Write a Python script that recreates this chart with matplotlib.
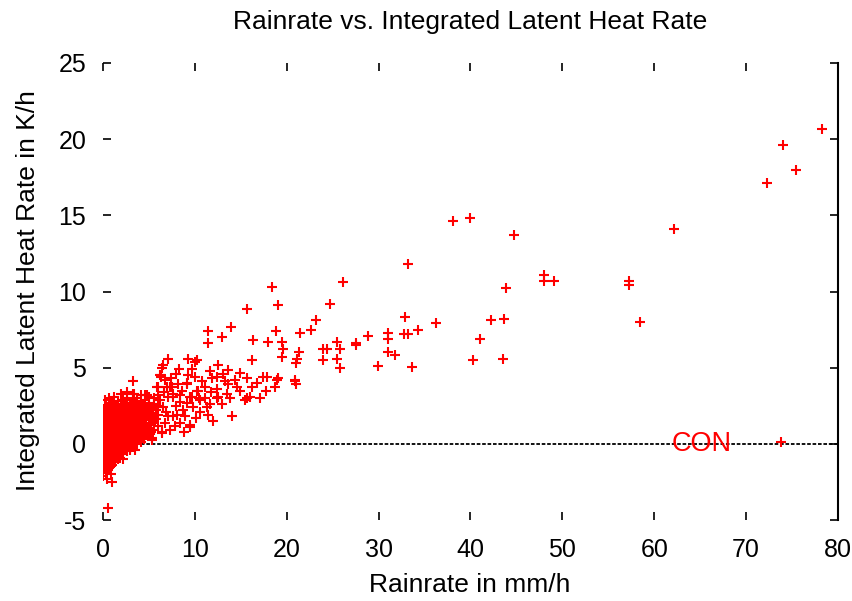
import numpy as np
import matplotlib
matplotlib.use('Agg')
import matplotlib.pyplot as plt

plt.rcParams['font.family'] = ['Liberation Sans', 'DejaVu Sans']
plt.rcParams['axes.unicode_minus'] = False

# dense cluster of weak rain cases (rainrate mm/h, latent heat K/h)
cluster_pts = [
    (0.1, -1.6), (0.12, -1.2), (0.08, -0.8), (0.15, -0.4), (0.1, 0.0), (0.05, 0.3), (0.14, 0.7),
    (0.1, 1.1), (0.07, 1.5), (0.12, 1.9), (0.1, 2.3),
    (0.3, -1.9), (0.33, -1.4), (0.28, -1.0), (0.35, -0.5), (0.3, -0.1), (0.27, 0.4), (0.32, 0.8),
    (0.3, 1.3), (0.36, 1.7), (0.29, 2.1), (0.31, 2.5),
    (0.52, -1.7), (0.5, -1.3), (0.55, -0.7), (0.48, -0.2), (0.5, 0.2), (0.53, 0.6), (0.49, 1.0),
    (0.56, 1.4), (0.5, 1.9), (0.52, 2.4),
    (0.8, -1.5), (0.78, -1.1), (0.83, -0.6), (0.8, -0.3), (0.76, 0.1), (0.82, 0.5), (0.8, 0.9),
    (0.85, 1.2), (0.79, 1.6), (0.81, 2.0), (0.8, 2.6),
    (1.0, -1.4), (1.05, -0.9), (0.98, -0.4), (1.02, 0.0), (1.0, 0.4), (1.04, 0.8), (0.97, 1.1),
    (1.03, 1.5), (1.0, 1.8), (1.06, 2.2), (1.0, 2.7),
    (1.3, -1.2), (1.27, -0.8), (1.33, -0.2), (1.3, 0.2), (1.28, 0.6), (1.34, 1.0), (1.3, 1.4),
    (1.26, 1.7), (1.32, 2.1), (1.3, 2.5),
    (1.6, -1.0), (1.63, -0.6), (1.58, -0.1), (1.6, 0.3), (1.65, 0.7), (1.57, 1.2), (1.61, 1.6),
    (1.6, 2.0), (1.64, 2.4), (1.59, 2.8),
    (1.9, -0.9), (1.93, -0.4), (1.88, 0.1), (1.9, 0.5), (1.95, 0.9), (1.87, 1.3), (1.92, 1.8),
    (1.9, 2.2), (1.94, 2.6),
    (2.2, -0.7), (2.24, -0.2), (2.18, 0.2), (2.2, 0.6), (2.25, 1.1), (2.17, 1.5), (2.22, 1.9),
    (2.2, 2.3), (2.23, 2.9),
    (2.6, -0.5), (2.63, 0.0), (2.57, 0.4), (2.6, 0.8), (2.65, 1.2), (2.58, 1.7), (2.61, 2.1),
    (2.6, 2.5), (2.64, 3.0),
    (2.9, -0.3), (2.93, 0.1), (2.88, 0.6), (2.9, 1.0), (2.95, 1.4), (2.87, 1.8), (2.92, 2.2),
    (2.9, 2.7),
    (3.3, -0.2), (3.34, 0.3), (3.27, 0.7), (3.3, 1.1), (3.35, 1.6), (3.28, 2.0), (3.31, 2.4),
    (3.3, 2.9), (3.33, 3.3),
    (3.7, 0.0), (3.74, 0.4), (3.67, 0.9), (3.7, 1.3), (3.75, 1.7), (3.68, 2.2), (3.71, 2.6),
    (3.7, 3.0),
    (4.1, 0.1), (4.14, 0.6), (4.07, 1.0), (4.1, 1.5), (4.15, 1.9), (4.08, 2.3), (4.11, 2.8),
    (4.1, 3.2),
    (4.5, 0.3), (4.55, 0.8), (4.47, 1.2), (4.5, 1.6), (4.54, 2.1), (4.48, 2.5), (4.52, 2.9),
    (5.0, 0.5), (5.04, 1.0), (4.97, 1.4), (5.0, 1.9), (5.05, 2.3), (4.98, 2.7), (5.02, 3.1),
    (5.5, 0.9), (5.53, 1.5), (5.47, 2.0), (5.5, 2.6), (5.52, 3.0),
    (6.0, 1.2), (6.04, 1.9), (5.97, 2.5), (6.0, 3.2),
    (0.2, 2.9), (0.6, 3.0), (1.2, 3.1), (2.0, 3.3), (2.6, 3.4), (0.9, -2.0), (0.4, -2.3),
    (3.3, 4.1), (6.3, 4.5), (3.3, 3.3), (4.6, 3.2), (6.0, 3.7), (0.5, -4.2), (1.0, -2.5),
    (0.0, -2.1), (2.2, -1.0), (2.9, -0.4), (3.5, -0.4), (5.3, 0.26), (6.4, 0.8),
]

# more cases in the same cluster, lying between the ones above
cluster_fill = [
    (0.2, -1.4), (0.22, -1.0), (0.18, -0.6), (0.2, -0.2), (0.21, 0.15), (0.19, 0.5), (0.2, 0.9),
    (0.23, 1.3), (0.2, 1.7), (0.18, 2.1),
    (0.45, -1.5), (0.43, -1.1), (0.46, -0.8), (0.45, -0.35), (0.44, 0.0), (0.47, 0.4),
    (0.45, 0.8), (0.42, 1.2), (0.46, 1.6), (0.45, 2.2),
    (0.65, -1.6), (0.67, -0.9), (0.64, -0.45), (0.65, -0.05), (0.66, 0.35), (0.63, 0.75),
    (0.65, 1.15), (0.68, 1.55), (0.65, 2.15),
    (0.9, -1.25), (0.92, -0.75), (0.88, -0.15), (0.9, 0.25), (0.91, 0.65), (0.89, 1.05),
    (0.9, 1.4), (0.93, 1.85), (0.9, 2.3),
    (1.15, -1.1), (1.17, -0.6), (1.13, -0.2), (1.15, 0.2), (1.16, 0.6), (1.14, 0.95),
    (1.15, 1.3), (1.18, 1.65), (1.15, 2.0), (1.13, 2.4),
    (1.45, -0.9), (1.47, -0.4), (1.43, 0.05), (1.45, 0.45), (1.46, 0.85), (1.44, 1.25),
    (1.45, 1.55), (1.48, 1.9), (1.45, 2.3),
    (1.75, -0.75), (1.77, -0.3), (1.73, 0.15), (1.75, 0.6), (1.76, 1.0), (1.74, 1.45),
    (1.75, 1.85), (1.78, 2.35),
    (2.05, -0.55), (2.07, -0.1), (2.03, 0.35), (2.05, 0.75), (2.06, 1.2), (2.04, 1.65),
    (2.05, 2.05), (2.08, 2.45),
    (2.4, -0.35), (2.42, 0.1), (2.38, 0.5), (2.4, 0.95), (2.41, 1.35), (2.39, 1.8),
    (2.4, 2.2), (2.43, 2.7),
    (2.75, -0.15), (2.77, 0.25), (2.73, 0.7), (2.75, 1.1), (2.76, 1.55), (2.74, 2.0),
    (2.75, 2.4),
    (3.1, 0.0), (3.12, 0.45), (3.08, 0.85), (3.1, 1.3), (3.11, 1.75), (3.09, 2.15),
    (3.1, 2.55),
    (3.5, 0.15), (3.52, 0.55), (3.48, 1.0), (3.5, 1.45), (3.51, 1.85), (3.49, 2.3),
    (3.5, 2.75),
    (3.9, 0.3), (3.92, 0.75), (3.88, 1.15), (3.9, 1.6), (3.91, 2.0), (3.89, 2.45),
    (4.3, 0.45), (4.32, 0.9), (4.28, 1.35), (4.3, 1.75), (4.31, 2.2), (4.29, 2.6),
    (4.75, 0.65), (4.77, 1.1), (4.73, 1.55), (4.75, 2.0), (4.76, 2.4),
    (5.25, 0.75), (5.27, 1.25), (5.23, 1.7), (5.25, 2.2), (5.8, 1.6), (5.82, 2.2),
]

# moderate rain, 5 - 22 mm/h
mid_pts = [
    (7.1, 5.6), (6.5, 5.2), (6.3, 4.4), (9.2, 5.6), (10.2, 5.5), (16.2, 5.5), (12.5, 5.2),
    (13.6, 4.85), (11.9, 4.3), (12.4, 4.4), (14.9, 4.65), (15.7, 4.3), (16.2, 3.7), (13.3, 4.1),
    (13.6, 3.9), (12.4, 3.6), (12.5, 3.1), (14.6, 3.7), (14.9, 3.5), (16.0, 3.1), (17.8, 4.4),
    (19.0, 4.3), (18.7, 3.7), (17.7, 3.5), (20.9, 4.2), (21.0, 3.9), (15.7, 3.0), (14.0, 1.85),
    (5.9, 3.7), (7.3, 3.7), (9.1, 3.9), (10.3, 3.5), (4.8, 3.2), (11.1, 3.0), (11.4, 1.9),
    (10.6, 2.1), (9.5, 1.25), (8.4, 1.4), (6.4, 0.7), (7.6, 3.1), (8.4, 2.75), (9.7, 3.1),
    (6.5, 2.4), (8.7, 2.2), (7.1, 1.8), (9.8, 2.4), (5.3, 2.4), (5.4, 1.8), (7.6, 1.8),
    (8.9, 1.8), (5.1, 1.05), (6.7, 1.4), (7.1, 3.1), (7.6, 3.3), (8.4, 3.2), (9.5, 3.1),
    (10.6, 2.9), (7.0, 3.7), (7.5, 3.7), (8.2, 3.9), (9.1, 4.0), (10.2, 3.5), (11.1, 3.7),
    (9.5, 1.1), (5.3, 0.4), (12.4, 3.0), (13.5, 3.3), (15.5, 2.9), (17.4, 4.4), (18.9, 4.2),
    (20.9, 4.1), (7.4, 4.3), (8.0, 2.5), (10.0, 4.4), (11.6, 2.6), (6.2, 2.9), (7.8, 1.2),
    (6.8, 4.2), (7.9, 4.6), (8.6, 3.5), (9.3, 4.5), (10.8, 4.1), (11.8, 3.4), (12.9, 2.6),
    (13.1, 4.6), (6.9, 2.1), (8.1, 1.9), (9.1, 2.7), (10.1, 1.7), (11.3, 2.4), (12.0, 1.5),
    (7.3, 0.9), (8.8, 0.8), (6.6, 3.4), (10.4, 3.0), (11.7, 4.8), (9.7, 4.9), (8.3, 4.9),
    (13.8, 3.0), (14.4, 4.2), (16.8, 4.0), (17.1, 3.0), (6.4, 5.0), (6.2, 4.5), (10.0, 5.4),
]

# heavy rain, above ~11 mm/h
high_pts = [
    (78.3, 20.7), (74.0, 19.6), (75.4, 18.0), (72.3, 17.1), (62.1, 14.1), (58.4, 8.0),
    (57.2, 10.7), (57.2, 10.4), (48.0, 11.1), (48.0, 10.7), (49.1, 10.7), (44.7, 13.7),
    (40.0, 14.8), (38.1, 14.6), (33.2, 11.8), (43.9, 10.2), (42.2, 8.1), (43.6, 8.2),
    (41.0, 6.9), (40.3, 5.5), (43.5, 5.6), (36.2, 7.9), (32.9, 8.3), (34.3, 7.5), (32.8, 7.2),
    (33.2, 7.2), (31.0, 7.3), (31.0, 6.9), (28.8, 7.1), (27.5, 6.5), (25.8, 6.2), (31.0, 6.0),
    (31.8, 5.8), (29.9, 5.1), (33.6, 5.05), (25.8, 5.0), (26.1, 10.6), (18.4, 10.3),
    (24.7, 9.2), (19.0, 9.1), (15.7, 8.85), (23.2, 8.1), (13.9, 7.7), (11.4, 7.4), (11.4, 6.6),
    (12.9, 7.0), (18.8, 7.4), (21.4, 7.3), (22.6, 7.5), (16.3, 6.8), (18.0, 6.7), (19.5, 6.7),
    (19.6, 6.2), (19.5, 5.7), (21.3, 6.0), (21.1, 5.6), (21.0, 5.3), (25.5, 6.7), (23.9, 6.2),
    (24.4, 6.2), (24.0, 5.5), (25.5, 5.6), (27.5, 6.6),
]

xticks = [0, 10, 20, 30, 40, 50, 60, 70, 80]
yticks = [-5, 0, 5, 10, 15, 20, 25]

pts = np.array(cluster_pts + cluster_fill + mid_pts + high_pts)

fig = plt.figure(figsize=(8.53, 6.01), dpi=100)
ax = fig.add_axes([103 / 853, 81 / 601, 735 / 853, 457 / 601])

ax.axhline(0, color='black', lw=1.3, linestyle=(0, (2, 1)), zorder=1)
ax.plot(pts[:, 0], pts[:, 1], linestyle='none', marker='+', color='red',
        markersize=7.5, markeredgewidth=1.5, label='CON', zorder=2)

ax.set_xlim(0, 80)
ax.set_ylim(-5, 25)
ax.set_xticks(xticks)
ax.set_yticks(yticks)
ax.tick_params(direction='in', length=6, width=1.2, top=True, right=True,
               labelsize=18)
ax.tick_params(axis='x', pad=13)
ax.tick_params(axis='y', pad=12)
for side in ['left', 'top', 'bottom']:
    ax.spines[side].set_visible(False)
ax.spines['right'].set_linewidth(1.5)

ax.legend(loc='center right', bbox_to_anchor=(0.969, 0.166), frameon=False,
          markerfirst=False, labelcolor='red', fontsize=19.5, handlelength=2.5,
          handletextpad=0.6, borderpad=0, borderaxespad=0)

fig.text(470 / 853, 1 - 22 / 601, 'Rainrate vs. Integrated Latent Heat Rate',
         ha='center', va='center', fontsize=19)
fig.text(470 / 853, 1 - 585 / 601, 'Rainrate in mm/h', ha='center', va='center',
         fontsize=19)
fig.text(28 / 853, 1 - 291 / 601, 'Integrated Latent Heat Rate in K/h',
         ha='center', va='center', rotation=90, fontsize=19)

fig.savefig('out.png', dpi=100)
